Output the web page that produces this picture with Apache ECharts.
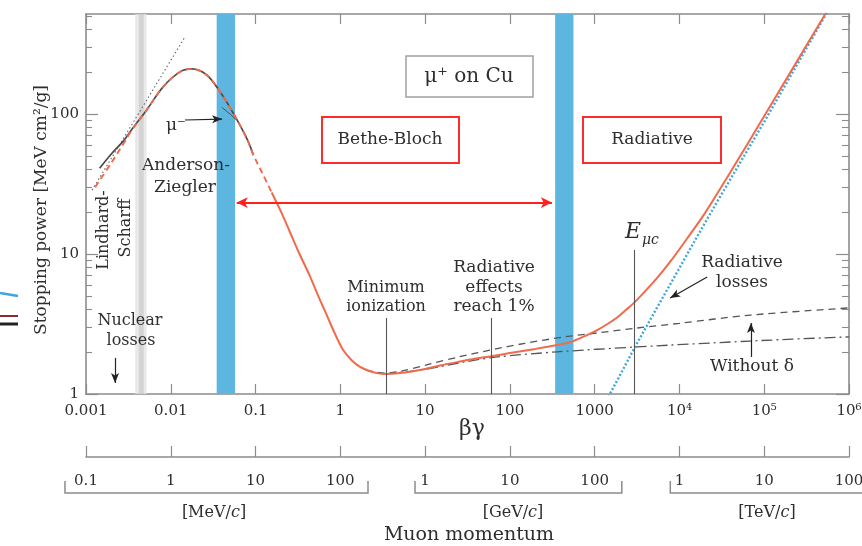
<!DOCTYPE html>
<html><head><meta charset="utf-8">
<script src="https://cdn.jsdelivr.net/npm/echarts@6/dist/echarts.min.js"></script>
<style>html,body{margin:0;padding:0;background:#fff}#c{width:862px;height:546px}</style>
</head><body><div id="c"></div><script>
const FONT = '"DejaVu Serif", "Liberation Serif", serif';

// ---- tick labels ----
const betaGammaLabels = ['0.001','0.01','0.1','1','10','100','1000','10⁴','10⁵','10⁶'];
const momentumLabels = ['0.1','1','10','100','1','10','100','1','10','100'];
const momentumUnits = ['MeV','GeV','TeV'];
const momentumGroupExtents = [[0.000565,2.12],[7.6,2090],[7800,3e6]];
const yMajorTicks = [1,10,100];
const yMinorTicks = [2,3,4,5,6,7,8,9,20,30,40,50,60,70,80,90,200,300,400,500];

// ---- curves: [βγ, stopping power MeV cm²/g] ----
const totalMuPlus = [[0.155,27.5],[0.2,20],[0.255,14.3],[0.33,10],[0.44,6.9],[0.55,5.0],[0.7,3.6],[0.85,2.75],[1.08,2.06],[1.35,1.75],[1.71,1.56],[2.2,1.46],[2.72,1.41],[3.4,1.39],[5,1.41],[7,1.45],[10,1.51],[15,1.6],[25,1.7],[40,1.79],[60,1.86],[100,1.96],[200,2.1],[361,2.24],[500,2.33],[617,2.45],[800,2.62],[1070,2.86],[1400,3.15],[1841,3.52],[2300,3.95],[2846,4.42],[3800,5.3],[5460,6.75],[8000,9.0],[12200,12.8],[19540,19.2],[40000,38.5],[97300,94],[525000,518],[800000,790]];
const andersonZieglerRed = [[0.00128,30],[0.002,45],[0.00275,61],[0.0035,77],[0.0052,107],[0.00817,157],[0.01286,200],[0.01766,210],[0.02655,190],[0.0381,144],[0.0547,101],[0.0787,67],[0.0942,51],[0.118,38.7],[0.155,27.5]];
const andersonZieglerDark = [[0.00145,41],[0.002,52],[0.00275,64],[0.0035,78],[0.0052,107],[0.00817,157],[0.01286,200],[0.01766,210],[0.02655,190],[0.0381,144],[0.0547,101],[0.0787,67],[0.0942,51]];
const lindhardScharff = [[0.00118,28.6],[0.0147,355]];
const muMinus = [[0.0399,111.6],[0.05,100],[0.0594,90.6]];
const radiativeLosses = [[1300,0.85],[1455,0.956],[3150,2.3],[15350,12.6],[27700,23.5],[100000,88],[525000,505],[800000,775]];
const ionizationWithDelta = [[2,1.48],[3.4,1.41],[5,1.45],[11.5,1.64],[25,1.84],[58.5,2.06],[150,2.3],[425,2.55],[1070,2.73],[3176,2.96],[10000,3.2],[68400,3.66],[1000000,4.12]];
const ionizationNoDelta = [[3.4,1.39],[10,1.5],[30,1.7],[70.8,1.84],[361,2.0],[3176,2.17],[68400,2.39],[1000000,2.56]];

// ---- bands and markers ----
const grayBandOuter = [0.0038,0.0052];
const grayBandInner = [0.0042,0.0048];
const blueBands = [[0.0348,0.0573],[342,562]];
const markerLines = [[[3.47,1],[3.47,3.49]],[[60,1],[60,3.49]],[[2925,1],[2925,10.7]]];
const betheBlochArrow = [[0.060,23.3],[313,23.3]];
const muMinusArrow = [[0.0147,90.6],[0.0403,92]];
const nuclearArrow = [[0.0022,1.81],[0.0022,1.2]];
const radLossArrow = [[21230,6.85],[7780,4.85]];
const withoutDeltaArrow = [[69700,1.84],[69700,3.21]];

const chart = echarts.init(document.getElementById('c'), null, {renderer:'canvas'});
const dec = v => Math.round(Math.log10(v));
const AX = '#8c8c8c';
const TXT = '#2e2e2e';

function xAxisBase(extra){
  return Object.assign({type:'log', logBase:10, min:0.001, max:1e6, splitLine:{show:false},
    axisLine:{show:true, lineStyle:{color:AX, width:1.6}},
    axisTick:{show:true, inside:true, length:10, lineStyle:{color:AX, width:1.2}},
    axisLabel:{show:false}}, extra);
}
function yAxisBase(extra){
  return Object.assign({type:'log', logBase:10, min:1, max:518, splitLine:{show:false},
    axisLine:{show:false}, axisLabel:{show:false}}, extra);
}
function lineSeries(name, data, style, extra){
  return Object.assign({name, type:'line', data, showSymbol:false, symbol:'none', silent:true,
    lineStyle:style, z:3}, extra||{});
}
function arrowLine(pair, color, width, symbols, size){
  return [
    {coord:pair[0], symbol:symbols[0], symbolSize:size, lineStyle:{color, width, type:'solid'}, itemStyle:{color}},
    {coord:pair[1], symbol:symbols[1], symbolSize:size}
  ];
}

const option = {
  animation:false,
  textStyle:{fontFamily:FONT},
  grid:{left:86, right:13, top:14, bottom:152, outerBoundsMode:'none', containLabel:false},
  xAxis:[
    xAxisBase({position:'bottom', axisLabel:{show:true, margin:10, fontSize:15, color:TXT, fontFamily:FONT,
      formatter:v => betaGammaLabels[dec(v)+3]}}),
    xAxisBase({position:'top'}),
    xAxisBase({position:'bottom', offset:63, axisTick:{show:true, inside:true, length:11, lineStyle:{color:AX,width:1.2}},
      axisLabel:{show:true, margin:17, fontSize:15, color:TXT, fontFamily:FONT,
      formatter:v => momentumLabels[dec(v)+3]}})
  ],
  yAxis:[
    yAxisBase({position:'left', axisLine:{show:true, lineStyle:{color:AX, width:1.6}},
      axisTick:{show:true, inside:true, length:12, customValues:yMajorTicks, lineStyle:{color:AX,width:1.2}},
      axisLabel:{show:true, customValues:yMajorTicks, margin:7, fontSize:15, color:TXT, fontFamily:FONT,
        formatter:v => String(Math.round(v))}}),
    yAxisBase({position:'left', axisTick:{show:true, inside:true, length:6, customValues:yMinorTicks, lineStyle:{color:AX,width:1.1}}}),
    yAxisBase({position:'right', axisLine:{show:true, lineStyle:{color:AX, width:1.6}},
      axisTick:{show:true, inside:true, length:13, customValues:yMajorTicks, lineStyle:{color:AX,width:1.2}}}),
    yAxisBase({position:'right', axisTick:{show:true, inside:true, length:7, customValues:yMinorTicks, lineStyle:{color:AX,width:1.1}}})
  ],
  series:[
    {name:'bands', type:'line', data:[], z:1, silent:true,
      markArea:{silent:true, z:1, data:[
        [{xAxis:grayBandOuter[0], itemStyle:{color:'rgba(228,228,228,0.8)'}},{xAxis:grayBandOuter[1]}],
        [{xAxis:grayBandInner[0], itemStyle:{color:'rgba(208,208,208,0.8)'}},{xAxis:grayBandInner[1]}],
        ...blueBands.map(b => [{xAxis:b[0], itemStyle:{color:'#5db6df'}},{xAxis:b[1]}])
      ]}},
    lineSeries('Lindhard-Scharff', lindhardScharff, {color:'#666', width:1.1, type:[1.5,2.5]}),
    lineSeries('ion. with δ', ionizationWithDelta, {color:'#555', width:1.3, type:[7,5]}, {smooth:0.3}),
    lineSeries('ion. without δ', ionizationNoDelta, {color:'#555', width:1.3, type:[11,4,2,4]}, {smooth:0.3}),
    lineSeries('radiative', radiativeLosses, {color:'#3ea6de', width:2.4, type:[2,2]}),
    lineSeries('AZ dark', andersonZieglerDark, {color:'#4a4a4a', width:1.7}, {smooth:0.35}),
    lineSeries('mu minus', muMinus, {color:'#4a4a4a', width:1}, {smooth:0.3}),
    lineSeries('AZ red', andersonZieglerRed, {color:'#f06a4b', width:1.9, type:[6,4]}, {smooth:0.35}),
    lineSeries('total', totalMuPlus, {color:'#f06a4b', width:2}, {smooth:0.3, z:4}),
    {name:'markers', type:'line', data:[], z:5, silent:true,
      markLine:{silent:true, animation:false, label:{show:false}, emphasis:{disabled:true}, data:[
        ...markerLines.map(p => arrowLine(p, '#555', 1.1, ['none','none'], 0)),
        arrowLine(betheBlochArrow, '#ff2020', 2, ['arrow','arrow'], [8,11]),
        arrowLine(muMinusArrow, '#222', 1.2, ['none','arrow'], [6,10]),
        arrowLine(nuclearArrow, '#222', 1.2, ['none','arrow'], [6,10]),
        arrowLine(radLossArrow, '#222', 1.2, ['none','arrow'], [6,10]),
        arrowLine(withoutDeltaArrow, '#222', 1.2, ['none','arrow'], [6,10])
      ]}}
  ]
};
chart.setOption(option);

// ---- annotations ----
function t(x, y, text, size, extra){
  return Object.assign({type:'text', x, y, silent:true, z:10, style:Object.assign({text, font:size+'px '+FONT, fill:TXT,
    align:'center', verticalAlign:'middle'}, (extra&&extra.style)||{})}, extra&&extra.rotation!==undefined?{rotation:extra.rotation}:{});
}
function box(x1, y1, x2, y2, color, w){
  return {type:'rect', silent:true, z:9, shape:{x:x1, y:y1, width:x2-x1, height:y2-y1},
    style:{fill:'#fff', stroke:color, lineWidth:w}};
}
const px = v => chart.convertToPixel({xAxisIndex:0}, v);
const g = [];
g.push(box(406,56,533,97,'#a0a0a0',1.5), t(469,77,'μ⁺ on Cu',20));
g.push(box(322,117,459,163,'#ff2a2a',2), t(390,140,'Bethe-Bloch',17));
g.push(box(583,117,721,163,'#ff2a2a',2), t(652,140,'Radiative',17));
g.push(t(176,126,'μ⁻',17));
g.push(t(186,166,'Anderson-',17), t(185,188,'Ziegler',17));
g.push(t(104,230,'Lindhard-',16,{rotation:Math.PI/2}), t(126,228,'Scharff',16,{rotation:Math.PI/2}));
g.push(t(130,321,'Nuclear',16), t(131,341,'losses',16));
g.push(t(386,288,'Minimum',16), t(386,307,'ionization',16));
g.push(t(494,268,'Radiative',17), t(494,288,'effects',17), t(494,307,'reach 1%',17));
g.push(t(633,232,'E',22,{style:{font:'italic 22px '+FONT}}), t(642,240,'μc',14,{style:{font:'italic 14px '+FONT, align:'left'}}));
g.push(t(742,263,'Radiative',17), t(742,283,'losses',17));
g.push(t(752,367,'Without δ',17));
g.push(t(42,210,'Stopping power [MeV cm²/g]',17,{rotation:Math.PI/2}));
g.push(t(472,429,'βγ',22));
g.push(t(469,535,'Muon momentum',19));
momentumGroupExtents.forEach((e,i) => {
  const a = px(e[0]), b = px(e[1]);
  g.push({type:'polyline', silent:true, z:9, shape:{points:[[a,481],[a,493],[b,493],[b,481]]},
    style:{stroke:AX, lineWidth:1.5, fill:null}});
  g.push({type:'text', silent:true, z:10, x:[214,513,767][i], y:513, style:{text:'['+momentumUnits[i]+'/{i|c}]',
    font:'16px '+FONT, fill:TXT, align:'center', verticalAlign:'middle', rich:{i:{font:'italic 16px '+FONT, fill:TXT}}}});
});
// cropped fragments at the left edge of the reference
g.push({type:'line', silent:true, shape:{x1:0,y1:293,x2:18,y2:296}, style:{stroke:'#3ea6de', lineWidth:2.5}});
g.push({type:'line', silent:true, shape:{x1:0,y1:316,x2:18,y2:316}, style:{stroke:'#8b2a2a', lineWidth:2}});
g.push({type:'line', silent:true, shape:{x1:0,y1:324,x2:18,y2:324}, style:{stroke:'#222', lineWidth:3}});
chart.setOption({graphic:g});
</script></body></html>
